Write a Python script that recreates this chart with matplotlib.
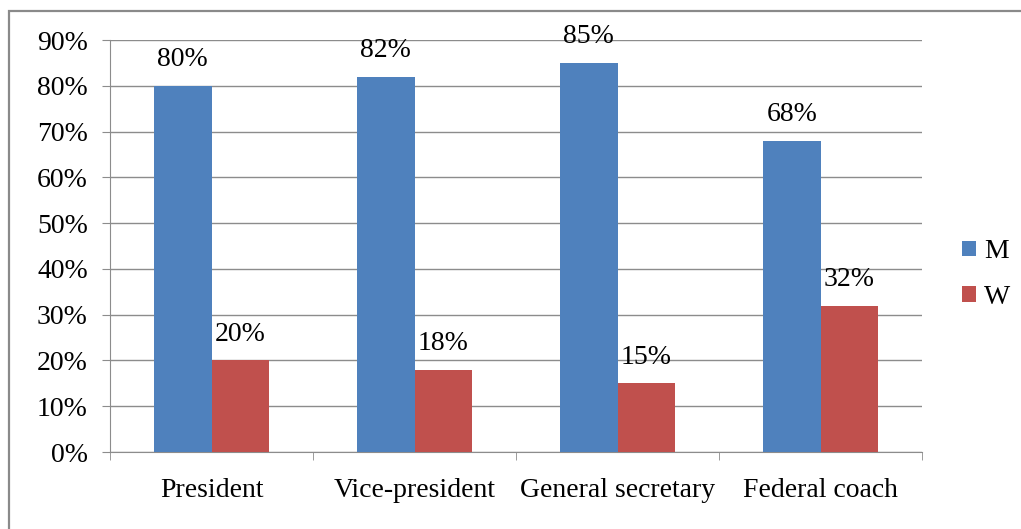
import numpy as np
import matplotlib.pyplot as plt
from matplotlib.patches import Rectangle
from matplotlib.ticker import FuncFormatter

categories = ['President', 'Vice-president', 'General secretary', 'Federal coach']
men = [80, 82, 85, 68]
women = [20, 18, 15, 32]
yticks = [0, 10, 20, 30, 40, 50, 60, 70, 80, 90]

plt.rcParams['font.family'] = ['Liberation Serif', 'DejaVu Serif']
fs = 20

fig = plt.figure(figsize=(10.21, 5.29), dpi=100)
ax = fig.add_axes([110/1021, 1-452/529, 812/1021, 412/529])

# outer chart border (cut off at right/bottom like the reference)
fig.patches.append(Rectangle((9/1021, -0.05), 1.1, 1-10.5/529+0.05, transform=fig.transFigure,
                             fill=False, edgecolor='#8a8a8a', linewidth=1.6))

x = np.arange(len(categories))
w = 0.283
grey = '#8c8c8c'
b1 = ax.bar(x - w/2, men, w, color='#4f81bd', label='M', zorder=3)
b2 = ax.bar(x + w/2, women, w, color='#c0504d', label='W', zorder=3)

for bars, vals in ((b1, men), (b2, women)):
    for r, v in zip(bars, vals):
        ax.text(r.get_x() + r.get_width()/2, v + 5.7, f'{v}%', ha='center', va='center', fontsize=fs)

ax.set_xlim(-0.5, len(categories) - 0.5)
ax.set_ylim(0, 90)
ax.set_yticks(yticks)
ax.yaxis.set_major_formatter(FuncFormatter(lambda v, p: f'{v:.0f}%'))
ax.set_xticks(x)
ax.set_xticklabels(categories)
ax.set_xticks(np.arange(len(categories) + 1) - 0.5, minor=True)
ax.tick_params(axis='x', which='major', length=0, pad=19, labelsize=fs)
ax.tick_params(axis='x', which='minor', length=6, color=grey, direction='out')
ax.tick_params(axis='y', length=6, color=grey, labelsize=fs, pad=10)
ax.grid(axis='y', color=grey, linewidth=1, zorder=0)
for s in ('top', 'right'):
    ax.spines[s].set_visible(False)
ax.spines['left'].set_color(grey)
ax.spines['bottom'].set_color(grey)

ax.legend(loc='center left', bbox_to_anchor=(1.018, 0.43), frameon=False, fontsize=fs,
          handlelength=0.5, handleheight=0.5, handletextpad=0.3, labelspacing=0.75)

fig.savefig('out.png', dpi=100)
